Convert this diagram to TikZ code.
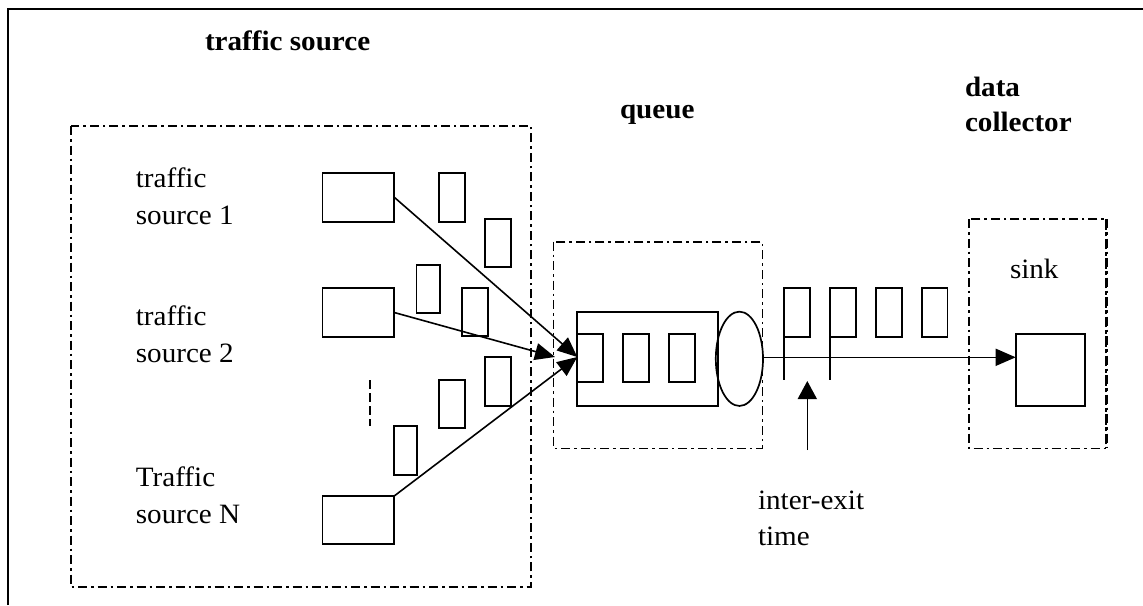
\documentclass[tikz,border=0pt]{standalone}
\usepackage{fontspec}
\setmainfont{Liberation Serif}
\usetikzlibrary{arrows.meta,shapes.geometric}
\begin{document}
\begin{tikzpicture}[x=1pt, y=-1pt,
  every node/.style={inner sep=0pt, outer sep=0pt},
  box/.style={draw, line width=1.7pt, anchor=north west},
  region/.style={draw, line width=1.6pt, dash pattern=on 9pt off 4pt on 2.5pt off 4pt},
  lbl/.style={anchor=base west, align=left, xscale=1.04, font=\fontsize{28}{37}\selectfont},
  head/.style={anchor=base west, xscale=1.04, align=left, font=\fontsize{28}{36}\selectfont\bfseries},
  link/.style={line width=1.6pt, -{Triangle[length=20pt, width=17pt]}},
]
\useasboundingbox (0,0) rectangle (1143,605);

% frame edges
\draw[line width=1.7pt] (8,605) -- (8,9.3) -- (1143,9.3);

% headings (multi-line nodes are anchored on their last baseline)
\node[head] (hsrc) at (205,50) {traffic source};
\node[head] (hq) at (620,118) {queue};
\node[head, font=\fontsize{28}{35.7}\selectfont\bfseries] (hdc) at (965,131.7) {data\\collector};

% region outlines
\draw[region] (70.8,126) rectangle (530.8,586.7);
\draw[region] (553.5,241.7) rectangle (762.3,448.3);
\draw[region] (968.8,219) rectangle (1106,448.3);
\draw[line width=3pt, dash pattern=on 9pt off 4pt on 2.5pt off 4pt] (1106,219) -- (1106,448.3);

% source labels
\node[lbl] (l1) at (135.9,224) {traffic\\source 1};
\node[lbl] (l2) at (135.9,362) {traffic\\source 2};
\node[lbl] (lN) at (135.9,523) {Traffic\\source N};
\node[lbl] (lsink) at (1010,278) {sink};
\node[lbl, font=\fontsize{28}{35.7}\selectfont] (lexit) at (758,545) {inter-exit\\time};

% traffic generators
\node[box, minimum width=71.6pt, minimum height=49pt] (s1) at (322.6,172.7) {};
\node[box, minimum width=71.6pt, minimum height=48.4pt] (s2) at (322.6,288.3) {};
\node[box, minimum width=71.6pt, minimum height=48pt] (sN) at (322.6,496) {};

% packets in flight
\node[box, minimum width=26pt, minimum height=49pt] (pa) at (439.3,172.7) {};
\node[box, minimum width=25.6pt, minimum height=48.3pt] (pb) at (485.3,219) {};
\node[box, minimum width=23.7pt, minimum height=48.3pt] (pc) at (416.4,265) {};
\node[box, minimum width=25.6pt, minimum height=48pt] (pd) at (462.3,288.3) {};
\node[box, minimum width=25.6pt, minimum height=48.4pt] (pe) at (485.3,357.3) {};
\node[box, minimum width=26pt, minimum height=48.3pt] (pf) at (439.3,380) {};
\node[box, minimum width=23.3pt, minimum height=48.7pt] (pg) at (393.8,426) {};

% ellipsis between sources
\coordinate (dots1) at (369.7,380);
\coordinate (dots2) at (369.7,426);
\draw[line width=1.6pt, dash pattern=on 9pt off 4pt] (dots1) -- (dots2);

% queue with buffered packets and server
\node[box, minimum width=140.4pt, minimum height=94.3pt] (q) at (577.3,311.7) {};
\node[box, minimum width=25.4pt, minimum height=48pt] (q1) at (577.3,334.3) {};
\node[box, minimum width=25.8pt, minimum height=48pt] (q2) at (623,334.3) {};
\node[box, minimum width=25.8pt, minimum height=48pt] (q3) at (669.2,334.3) {};
\node[draw, ellipse, line width=1.7pt, minimum width=47.2pt, minimum height=94.3pt] (srv) at (739.4,358.8) {};

% departing packets
\node[box, minimum width=25.7pt, minimum height=48.4pt] (o1) at (784.3,288.3) {};
\node[box, minimum width=25.7pt, minimum height=48.4pt] (o2) at (830,288.3) {};
\node[box, minimum width=25.7pt, minimum height=48.4pt] (o3) at (876,288.3) {};
\node[box, minimum width=25.7pt, minimum height=48.4pt] (o4) at (921.7,288.3) {};
\coordinate (t1) at (784.3,380);
\coordinate (t2) at (830,380);
\draw[line width=1.7pt] (o1.south west) -- (t1);
\draw[line width=1.7pt] (o2.south west) -- (t2);

% sink
\node[box, minimum width=69.6pt, minimum height=71.7pt] (snk) at (1015.7,334.3) {};

% arrivals into the queue
\coordinate (in) at (577.3,357);
\coordinate (in2) at (555,357);
\draw[link] (s1.east) -- (in);
\draw[link] (s2.east) -- (in2);
\draw[link] (sN.north east) -- (in);

% departures to the sink
\coordinate (out) at (761.5,357.3);
\draw[link] (out) -- (out -| snk.west);

% inter-exit time pointer
\coordinate (pt0) at (807.3,450);
\coordinate (pt1) at (807.3,381);
\draw[line width=1.6pt, -{Triangle[length=18pt, width=19pt]}] (pt0) -- (pt1);
\end{tikzpicture}
\end{document}
